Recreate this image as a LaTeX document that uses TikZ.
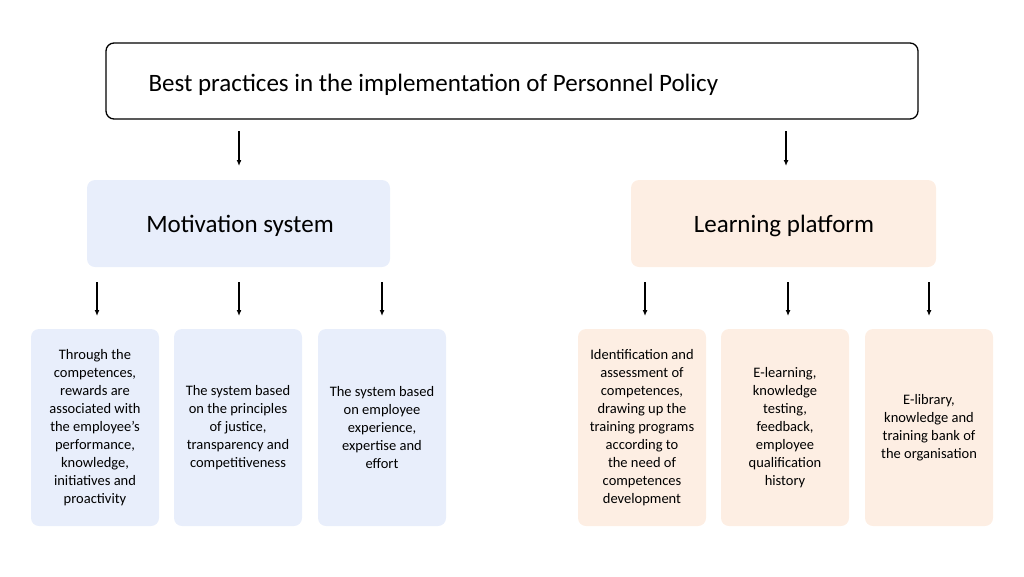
\documentclass[tikz,border=0pt]{standalone}
\usepackage{fontspec}
\setmainfont{Carlito}
\usetikzlibrary{arrows.meta}
\begin{document}
\begin{tikzpicture}[x=1pt,y=-1pt,
  bigbox/.style={rounded corners=8pt,inner sep=0pt},
  small/.style={rounded corners=8pt,inner sep=0pt,minimum width=128pt,minimum height=197pt},
  txt/.style={font=\fontsize{14.5}{18}\selectfont,align=center},
  big/.style={font=\fontsize{25}{29}\selectfont},
  arr/.style={-{Latex[length=6pt,width=5pt]},line width=1.2pt}]
\useasboundingbox (0,0) rectangle (1024,576);
\definecolor{bl}{HTML}{E8EEFB}
\definecolor{pc}{HTML}{FDEEE3}
\node[draw,line width=1.3pt,rounded corners=8pt,minimum width=812pt,minimum height=76pt] (top) at (512,81) {};
\node[anchor=west,big] (tt) at (145,85) {Best practices in the implementation of Personnel Policy};
\node[bigbox,fill=bl,minimum width=303pt,minimum height=87pt] (mot) at (238.5,223.5) {};
\node[big] at (240,226) {Motivation system};
\node[bigbox,fill=pc,minimum width=305pt,minimum height=87pt] (lrn) at (783.5,223.5) {};
\node[big] at (784,226) {Learning platform};
\coordinate (a1) at (239,131); \coordinate (b1) at (239,166);
\coordinate (a2) at (786,131); \coordinate (b2) at (786,166);
\draw[arr] (a1) -- (b1); \draw[arr] (a2) -- (b2);
\foreach \x/\c/\t [count=\i] in {
 95/bl/{Through the\\competences,\\rewards are\\associated with\\the employee's\\performance,\\knowledge,\\initiatives and\\proactivity},
 238/bl/{The system based\\on the principles\\of justice,\\transparency and\\competitiveness},
 382/bl/{The system based\\on employee\\experience,\\expertise and\\effort},
 642/pc/{Identification and\\assessment of\\competences,\\drawing up the\\training programs\\according to\\the need of\\competences\\development},
 785/pc/{E-learning,\\knowledge\\testing,\\feedback,\\employee\\qualification\\history},
 929/pc/{E-library,\\knowledge and\\training bank of\\the organisation}}{
  \node[small,fill=\c] (s\i) at (\x,427.5) {};
  \node[txt] at (\x,428) {\t};
}
\foreach \x in {97,239,382,645,788,929}{
  \coordinate (p\x) at (\x,282); \coordinate (q\x) at (\x,316);
  \draw[arr] (p\x) -- (q\x);
}
\end{tikzpicture}
\end{document}
